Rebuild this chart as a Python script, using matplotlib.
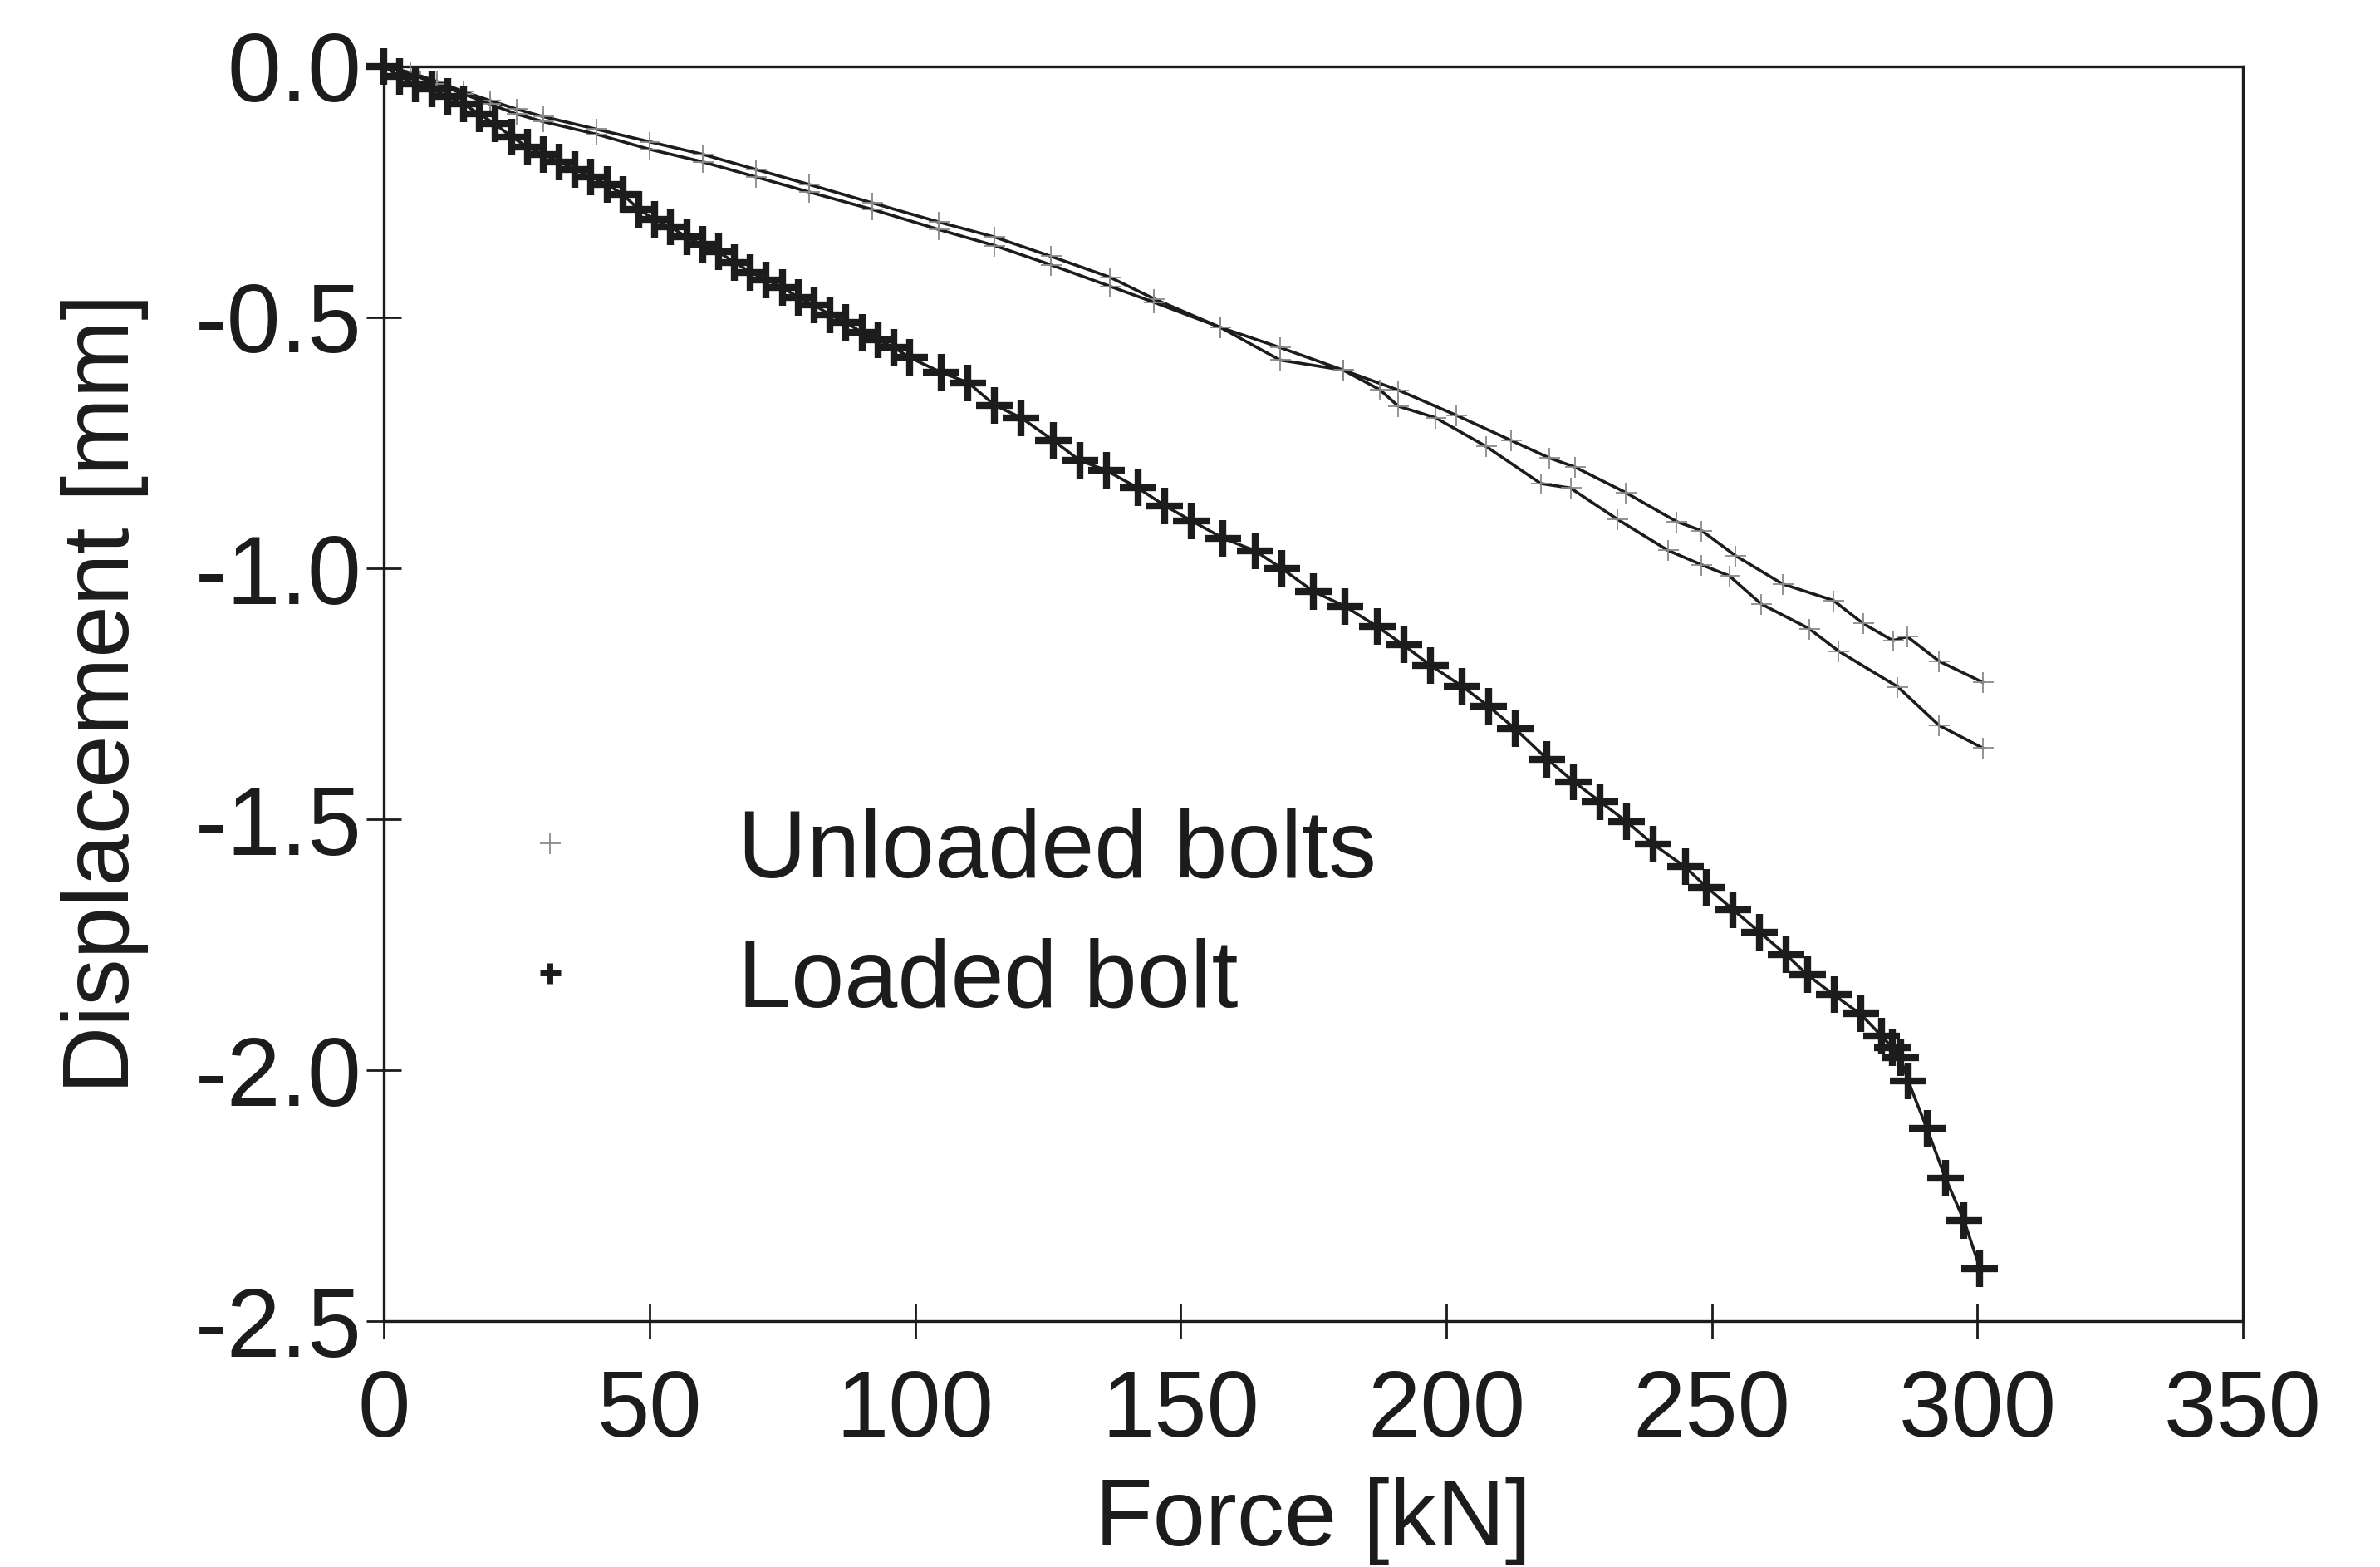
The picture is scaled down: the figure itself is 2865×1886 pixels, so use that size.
import matplotlib
matplotlib.use("Agg")
import matplotlib.pyplot as plt
from matplotlib.lines import Line2D

plt.rcParams['font.family'] = ['Liberation Sans', 'DejaVu Sans']
plt.rcParams['axes.unicode_minus'] = False

# ---- data ----
loaded_force = [0, 3, 6, 9, 12, 15, 18, 21, 24, 27, 30, 33, 36, 39, 42, 45, 48, 51, 54, 57,
                60, 63, 66, 69, 72, 75, 78, 81, 84, 87, 90, 93, 96, 99, 105, 110, 115, 120,
                126, 131, 136, 142, 147, 152, 158, 164, 169, 175, 181, 187, 192, 197, 203,
                208, 213, 219, 224, 229, 234, 239, 245, 249, 254, 259, 264, 268, 273, 278,
                282, 284, 285.5, 287, 290.5, 294, 297.5, 300.5]
loaded_disp = [0.0, -0.02, -0.035, -0.045, -0.06, -0.075, -0.095, -0.115, -0.14, -0.16,
               -0.175, -0.19, -0.205, -0.22, -0.235, -0.255, -0.285, -0.305, -0.32, -0.34,
               -0.355, -0.37, -0.39, -0.41, -0.425, -0.44, -0.46, -0.475, -0.495, -0.51,
               -0.53, -0.545, -0.56, -0.58, -0.61, -0.63, -0.675, -0.70, -0.745, -0.785,
               -0.805, -0.84, -0.875, -0.905, -0.94, -0.965, -1.0, -1.046, -1.076, -1.116,
               -1.153, -1.193, -1.235, -1.275, -1.32, -1.38, -1.425, -1.465, -1.505, -1.55,
               -1.595, -1.635, -1.68, -1.725, -1.77, -1.81, -1.85, -1.888, -1.932, -1.955,
               -1.975, -2.022, -2.116, -2.215, -2.30, -2.395]

unloadedA_force = [0, 5, 10, 15, 20, 25, 30, 40, 50, 60, 70, 80, 92, 104.5, 115, 125.5,
                   136.7, 145, 157.5, 168.7, 180.6, 191, 201.9, 212.2, 219.4, 224.2, 233.8,
                   243.4, 248.1, 254.5, 263.3, 272.9, 278.5, 284.1, 286.8, 292.8, 301]
unloadedA_disp = [0.0, -0.012, -0.03, -0.05, -0.068, -0.085, -0.10, -0.125, -0.15, -0.175,
                  -0.205, -0.235, -0.272, -0.31, -0.34, -0.378, -0.42, -0.463, -0.52,
                  -0.56, -0.605, -0.645, -0.695, -0.745, -0.78, -0.798, -0.849, -0.907,
                  -0.925, -0.975, -1.031, -1.064, -1.11, -1.144, -1.136, -1.185, -1.227]

unloadedB_force = [0, 5, 10, 15, 20, 25, 30, 40, 50, 60, 70, 80, 92, 104.5, 115, 125.5,
                   136.7, 145, 157.5, 168.7, 180.6, 187.5, 191, 198, 207.5, 217.8, 223.4,
                   232.2, 241.7, 248.1, 253.3, 259.3, 268.3, 273.9, 285, 292.8, 301]
unloadedB_disp = [0.0, -0.015, -0.035, -0.055, -0.075, -0.095, -0.11, -0.135, -0.165,
                  -0.19, -0.22, -0.25, -0.285, -0.325, -0.357, -0.395, -0.438, -0.47,
                  -0.52, -0.585, -0.605, -0.644, -0.677, -0.70, -0.757, -0.831, -0.84,
                  -0.902, -0.964, -0.993, -1.015, -1.071, -1.12, -1.165, -1.236, -1.313,
                  -1.358]

x_ticks = [0, 50, 100, 150, 200, 250, 300, 350]
y_ticks = [0.0, -0.5, -1.0, -1.5, -2.0, -2.5]
y_ticklabels = ["0.0", "-0.5", "-1.0", "-1.5", "-2.0", "-2.5"]
legend_labels = ['Unloaded bolts', 'Loaded bolt']

ink = '#1c1c1c'

fig = plt.figure(figsize=(28.65, 18.86), dpi=100)
ax = fig.add_axes([0.1613, 0.1569, 0.7811, 0.8007])

for xs, ys in [(unloadedA_force, unloadedA_disp), (unloadedB_force, unloadedB_disp)]:
    ax.plot(xs, ys, color=ink, lw=2.6, marker='+', markersize=18,
            markeredgewidth=1.3, markeredgecolor='#8a8a8a', clip_on=False, zorder=3)

ax.plot(loaded_force, loaded_disp, color=ink, lw=2.6, zorder=4, clip_on=False)
ax.plot(loaded_force, loaded_disp, linestyle='none', marker='+', markersize=31,
        markeredgewidth=6, color=ink, clip_on=False, zorder=5)

ax.set_xlim(0, 350)
ax.set_ylim(-2.5, 0)
ax.set_xticks(x_ticks)
ax.set_xticklabels([str(v) for v in x_ticks])
ax.set_yticks(y_ticks)
ax.set_yticklabels(y_ticklabels)

for s in ax.spines.values():
    s.set_linewidth(2.4)
    s.set_color(ink)

ax.tick_params(axis='both', which='major', direction='inout', length=30, width=2.0,
               color=ink, labelcolor=ink)
ax.tick_params(axis='x', labelsize=82, pad=26)
ax.tick_params(axis='y', labelsize=84, pad=4)

ax.set_xlabel('Force [kN]', fontsize=82, color=ink, labelpad=18)
ax.set_ylabel('Displacement [mm]', fontsize=81, color=ink, labelpad=40)

handles = [
    Line2D([], [], linestyle='none', marker='+', markersize=18, markeredgewidth=1.3,
           markeredgecolor='#8a8a8a'),
    Line2D([], [], linestyle='none', marker='+', markersize=18, markeredgewidth=5,
           markeredgecolor=ink),
]
leg = ax.legend(handles, legend_labels, loc='center left',
                bbox_to_anchor=(0.017, 0.322), frameon=False, fontsize=83,
                handlelength=1.0, handletextpad=1.46, labelspacing=0.42,
                labelcolor=ink)

fig.savefig('out.png', dpi=100, facecolor='white')
